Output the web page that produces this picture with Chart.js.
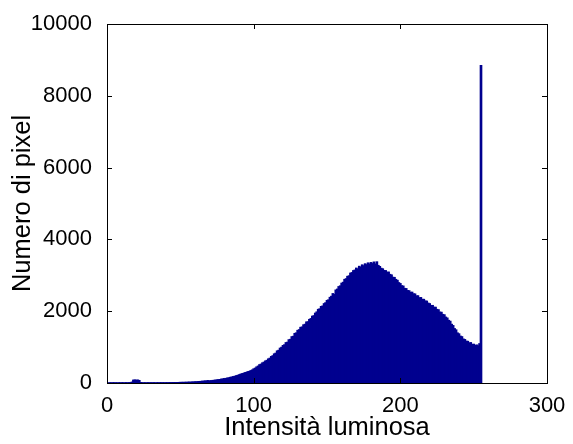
<!DOCTYPE html>
<html>
<head>
<meta charset="utf-8">
<title>Istogramma</title>
<script src="https://cdn.jsdelivr.net/npm/chart.js@4/dist/chart.umd.min.js"></script>
<style>
  html, body { margin: 0; padding: 0; background: #fff; }
  canvas { display: block; }
</style>
</head>
<body>
<canvas id="histCanvas" width="573" height="444"></canvas>
<script>
// Histogram of pixel intensities, bins 0..255
const livelli = Array.from({ length: 256 }, (_, i) => i);

const conteggi = [
  // 0-17
  12, 10, 11, 13, 12, 14, 12, 11, 13, 12, 14, 13, 12, 15, 13, 14, 16, 30,
  // 18-22
  85, 90, 82, 88, 75,
  // 23-49
  18, 14, 12, 13, 12, 14, 13, 12, 13, 14, 12, 13, 14, 13, 15, 14, 13, 15, 14, 16, 15, 17, 16, 18, 17, 19, 20,
  // 50-69
  22, 24, 23, 26, 25, 28, 30, 29, 33, 35, 38, 40, 43, 46, 50, 55, 58, 62, 66, 72,
  // 70-99
  65, 70, 76, 80, 87, 91, 99, 103, 114, 118, 128, 133, 142, 150, 162, 170, 183, 190, 207, 216,
  235, 248, 265, 272, 294, 300, 322, 328, 350, 368,
  // 100-139
  398, 418, 452, 476, 515, 530, 566, 585, 618, 636, 675, 695, 742, 765, 815, 835, 898, 915, 975, 1000,
  1050, 1070, 1130, 1140, 1210, 1220, 1295, 1305, 1385, 1400, 1470, 1490, 1555, 1565, 1625, 1640, 1705, 1710, 1775, 1800,
  // 140-179
  1865, 1880, 1950, 1985, 2055, 2070, 2135, 2150, 2215, 2240, 2305, 2320, 2390, 2420, 2495, 2470, 2595, 2620, 2690, 2710,
  2785, 2810, 2890, 2910, 2975, 2990, 3065, 3080, 3135, 3150, 3205, 3180, 3255, 3230, 3295, 3270, 3325, 3300, 3350, 3320,
  // 180-219
  3360, 3330, 3375, 3320, 3380, 3280, 3250, 3200, 3185, 3140, 3135, 3090, 3095, 3030, 3015, 2950, 2945, 2890, 2865, 2800,
  2775, 2715, 2705, 2640, 2635, 2580, 2575, 2530, 2535, 2490, 2485, 2430, 2435, 2380, 2385, 2335, 2335, 2290, 2285, 2230,
  // 220-255
  2215, 2165, 2165, 2115, 2115, 2055, 2045, 1980, 1975, 1915, 1905, 1840, 1815, 1750, 1725, 1640, 1605, 1520, 1485, 1400,
  1375, 1310, 1295, 1230, 1215, 1170, 1165, 1120, 1130, 1080, 1085, 1050, 1065, 1040, 1100, 8850
];

const ticksX = [0, 100, 200, 300];
const ticksY = [0, 2000, 4000, 6000, 8000, 10000];

const FONT = 'Arial, "Liberation Sans", Helvetica, sans-serif';

// draws the box around the axes with inward tick marks on all sides
const boxFrame = {
  id: 'boxFrame',
  afterDraw(chart) {
    const { ctx, chartArea: a, scales } = chart;
    const tl = 5;
    ctx.save();
    ctx.strokeStyle = '#000';
    ctx.lineWidth = 1;
    ctx.beginPath();
    ticksX.forEach(v => {
      const x = Math.round(scales.x.getPixelForValue(v)) + 0.5;
      ctx.moveTo(x, a.bottom);
      ctx.lineTo(x, a.bottom - tl);
      ctx.moveTo(x, a.top);
      ctx.lineTo(x, a.top + tl);
    });
    ticksY.forEach(v => {
      const y = Math.round(scales.y.getPixelForValue(v)) + 0.5;
      ctx.moveTo(a.left, y);
      ctx.lineTo(a.left + tl, y);
      ctx.moveTo(a.right, y);
      ctx.lineTo(a.right - tl, y);
    });
    ctx.stroke();
    ctx.strokeRect(Math.round(a.left) + 0.5, Math.round(a.top) + 0.5,
      Math.round(a.right - a.left), Math.round(a.bottom - a.top));
    ctx.restore();
  }
};

new Chart(document.getElementById('histCanvas'), {
  type: 'bar',
  data: {
    datasets: [{
      data: livelli.map((x, i) => ({ x, y: conteggi[i] })),
      backgroundColor: '#00008f',
      borderWidth: 0,
      barThickness: 2
    }]
  },
  options: {
    responsive: false,
    animation: false,
    devicePixelRatio: 1,
    layout: { padding: { left: 0, top: 24, right: 26, bottom: 0 } },
    plugins: {
      legend: { display: false },
      tooltip: { enabled: false }
    },
    scales: {
      x: {
        type: 'linear',
        min: 0,
        max: 300,
        offset: false,
        grid: { display: false },
        border: { display: false },
        afterFit: s => { s.height = 61; },
        afterBuildTicks: s => { s.ticks = ticksX.map(v => ({ value: v })); },
        ticks: {
          color: '#000',
          padding: 2,
          maxRotation: 0,
          callback: v => String(v),
          font: { family: FONT, size: 22 }
        },
        title: {
          display: true,
          text: 'Intensità luminosa',
          color: '#000',
          padding: { top: 0, bottom: 3 },
          font: { family: FONT, size: 25.5, lineHeight: 1 }
        }
      },
      y: {
        min: 0,
        max: 10000,
        grid: { display: false },
        border: { display: false },
        afterFit: s => { s.width = 107; },
        afterBuildTicks: s => { s.ticks = ticksY.map(v => ({ value: v })); },
        ticks: {
          color: '#000',
          padding: 7,
          callback: v => String(v),
          font: { family: FONT, size: 22 }
        },
        title: {
          display: true,
          text: 'Numero di pixel',
          color: '#000',
          padding: { top: 10, bottom: 0 },
          font: { family: FONT, size: 25.5, lineHeight: 1 }
        }
      }
    }
  },
  plugins: [boxFrame]
});
</script>
</body>
</html>
